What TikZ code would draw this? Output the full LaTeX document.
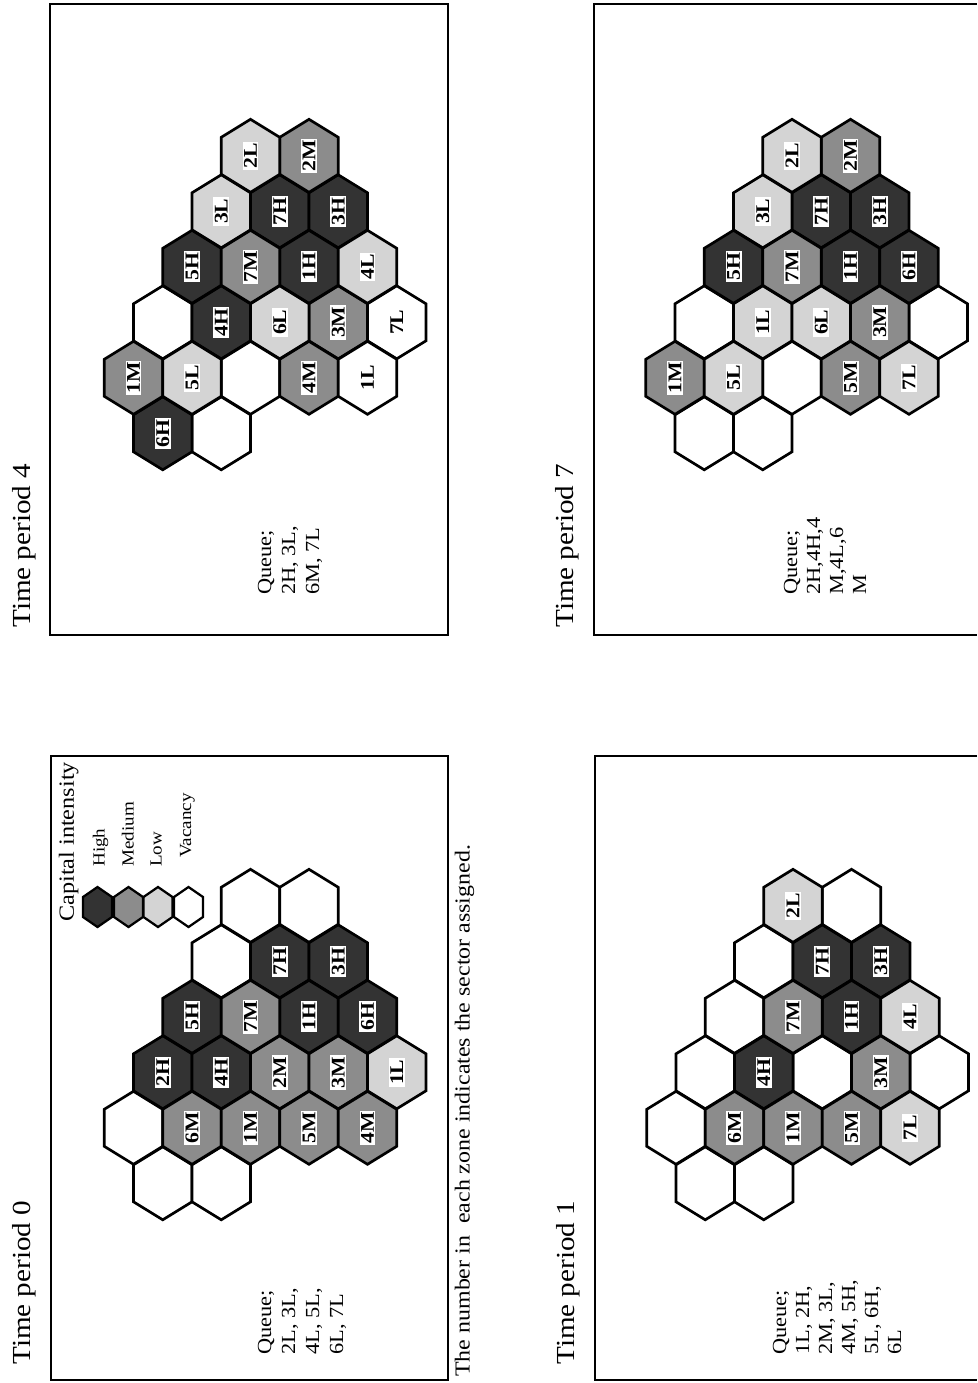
\documentclass[tikz,border=0pt]{standalone}
\usepackage{fontspec}
\setmainfont{Liberation Serif}
\usepackage{graphicx}
\newcommand\sx[1]{\scalebox{1.12}[1]{#1}}
\tikzset{
  hexline/.style={draw=black, line width=1.9pt, line join=miter},
  cH/.style={hexline, fill=black!80},
  cM/.style={hexline, fill=black!45},
  cL/.style={hexline, fill=black!17},
  cV/.style={hexline, fill=white},
  lgd/.style={line width=1.6pt, draw=black},
  lbl/.style={rotate=90, fill=white, inner sep=1.1pt, font=\bfseries\fontsize{13.8}{14}\selectfont},
  title/.style={rotate=90, anchor=base west, inner sep=0pt, font=\fontsize{18.5}{20}\selectfont},
  qtext/.style={rotate=90, anchor=base west, inner sep=0pt, font=\fontsize{14.2}{16}\selectfont},
  legtext/.style={rotate=90, anchor=base west, inner sep=0pt, font=\fontsize{12.1}{13}\selectfont},
  frame/.style={line width=1.9pt, line join=miter},
}
\newcommand\hexat[3]{%
  \path[#1] (#2,#3) ++(0,-36.5) -- ++(29.25,18) -- ++(0,37) -- ++(-29.25,18) -- ++(-29.25,-18) -- ++(0,-37) -- cycle;}
\newcommand\smallhex[3]{%
  \path[#1] (#2,#3) ++(0,-20) -- ++(14.5,10) -- ++(0,20) -- ++(-14.5,10) -- ++(-14.5,-10) -- ++(0,-20) -- cycle;}
% #1 panel id, #2 x of k=0, #3 y of row 1, #4 style, #5 list k/row/label
\newcommand\cells[5]{%
  \foreach \kk/\rr/\lab in {#5} {%
    \pgfmathsetmacro\cx{#2+\kk*29.25}%
    \pgfmathsetmacro\cy{#3+(\rr-1)*55.5}%
    \hexat{#4}{\cx}{\cy}%
    \node[lbl] (#1-\lab) at (\cx,\cy) {\sx{\lab}};%
  }}
% #1 x of k=0, #2 y of row 1, #3 list k/row
\newcommand\vacant[3]{%
  \foreach \kk/\rr in {#3} {%
    \pgfmathsetmacro\cx{#1+\kk*29.25}%
    \pgfmathsetmacro\cy{#2+(\rr-1)*55.5}%
    \hexat{cV}{\cx}{\cy}%
  }}
\begin{document}
\begin{tikzpicture}[x=0.25mm, y=-0.25mm]
\useasboundingbox (0,0) rectangle (977,1383);
\fill[white] (0,0) rectangle (977,1383);

% ---------- frames ----------
\draw[frame] (50,4) rectangle (448,635);
\draw[frame] (977,4) -- (594,4) -- (594,635) -- (977,635);
\draw[frame] (51,756) rectangle (448,1380);
\draw[frame] (977,756) -- (595,756) -- (595,1380) -- (977,1380);

% ---------- titles ----------
\node[title] (t4) at (30.8,628) {\sx{Time period 4}};
\node[title] (t7) at (573,628) {\sx{Time period 7}};
\node[title] (t0) at (30.8,1365) {\sx{Time period 0}};
\node[title] (t1) at (574,1365) {\sx{Time period 1}};

% ---------- Time period 0 ----------
\vacant{133.5}{905.8}{4/1, 6/1, 3/2, 0/5, 1/6, 3/6}
\cells{p0}{133.5}{905.8}{cH}{5/2/7H, 7/2/3H, 2/3/5H, 6/3/1H, 8/3/6H, 1/4/2H, 3/4/4H}
\cells{p0}{133.5}{905.8}{cM}{4/3/7M, 5/4/2M, 7/4/3M, 2/5/6M, 4/5/1M, 6/5/5M, 8/5/4M}
\cells{p0}{133.5}{905.8}{cL}{9/4/1L}

% legend
\node[rotate=90, anchor=base west, inner sep=0pt, font=\fontsize{15.4}{17}\selectfont] (capint) at (73.8,922) {\sx{Capital intensity}};
\smallhex{lgd, fill=black!80}{97.5}{907}
\smallhex{lgd, fill=black!45}{128.5}{907}
\smallhex{lgd, fill=black!17}{158}{907}
\smallhex{lgd, fill=white}{188.5}{907}
\node[legtext] (lh) at (104.5,867) {\sx{High}};
\node[legtext] (lm) at (133.5,867) {\sx{Medium}};
\node[legtext] (ll) at (161.5,867) {\sx{Low}};
\node[legtext] (lv) at (191,858) {\sx{Vacancy}};

\node[qtext] (q0a) at (271,1355) {\sx{Queue;}};
\node[qtext] (q0b) at (295,1355) {\sx{2L, 3L,}};
\node[qtext] (q0c) at (319,1355) {\sx{4L, 5L,}};
\node[qtext] (q0d) at (343,1355) {\sx{6L, 7L}};

\node[rotate=90, anchor=base west, inner sep=0pt, font=\fontsize{15.2}{17}\selectfont] (note) at (469.5,1377) {\sx{The number in~ each zone indicates the sector assigned.}};

% ---------- Time period 1 ----------
\vacant{676}{905.8}{6/1, 3/2, 2/3, 1/4, 5/4, 9/4, 0/5, 1/6, 3/6}
\cells{p1}{676}{905.8}{cH}{5/2/7H, 7/2/3H, 6/3/1H, 3/4/4H}
\cells{p1}{676}{905.8}{cM}{4/3/7M, 7/4/3M, 2/5/6M, 4/5/1M, 6/5/5M}
\cells{p1}{676}{905.8}{cL}{4/1/2L, 8/3/4L, 8/5/7L}

\node[qtext] (q1a) at (786,1355) {\sx{Queue;}};
\node[qtext] (q1b) at (809,1355) {\sx{1L, 2H,}};
\node[qtext] (q1c) at (832,1355) {\sx{2M, 3L,}};
\node[qtext] (q1d) at (855,1355) {\sx{4M, 5H,}};
\node[qtext] (q1e) at (878,1355) {\sx{5L, 6H,}};
\node[qtext] (q1f) at (901,1355) {\sx{6L}};

% ---------- Time period 4 ----------
\vacant{133.5}{155.8}{1/4, 4/5, 3/6}
\cells{p4}{133.5}{155.8}{cH}{5/2/7H, 7/2/3H, 2/3/5H, 6/3/1H, 3/4/4H, 1/6/6H}
\cells{p4}{133.5}{155.8}{cM}{6/1/2M, 4/3/7M, 7/4/3M, 0/5/1M, 6/5/4M}
\cells{p4}{133.5}{155.8}{cL}{4/1/2L, 3/2/3L, 8/3/4L, 5/4/6L, 2/5/5L}
\cells{p4}{133.5}{155.8}{cV}{9/4/7L, 8/5/1L}

\node[qtext] (q4a) at (271,595) {\sx{Queue;}};
\node[qtext] (q4b) at (295,595) {\sx{2H, 3L,}};
\node[qtext] (q4c) at (319,595) {\sx{6M, 7L}};

% ---------- Time period 7 ----------
\vacant{675}{155.8}{1/4, 9/4, 4/5, 1/6, 3/6}
\cells{p7}{675}{155.8}{cH}{5/2/7H, 7/2/3H, 2/3/5H, 6/3/1H, 8/3/6H}
\cells{p7}{675}{155.8}{cM}{6/1/2M, 4/3/7M, 7/4/3M, 0/5/1M, 6/5/5M}
\cells{p7}{675}{155.8}{cL}{4/1/2L, 3/2/3L, 3/4/1L, 5/4/6L, 2/5/5L, 8/5/7L}

\node[qtext] (q7a) at (797,595) {\sx{Queue;}};
\node[qtext] (q7b) at (820,595) {\sx{2H,4H,4}};
\node[qtext] (q7c) at (843,595) {\sx{M,4L,6}};
\node[qtext] (q7d) at (866,595) {\sx{M}};
\end{tikzpicture}
\end{document}
